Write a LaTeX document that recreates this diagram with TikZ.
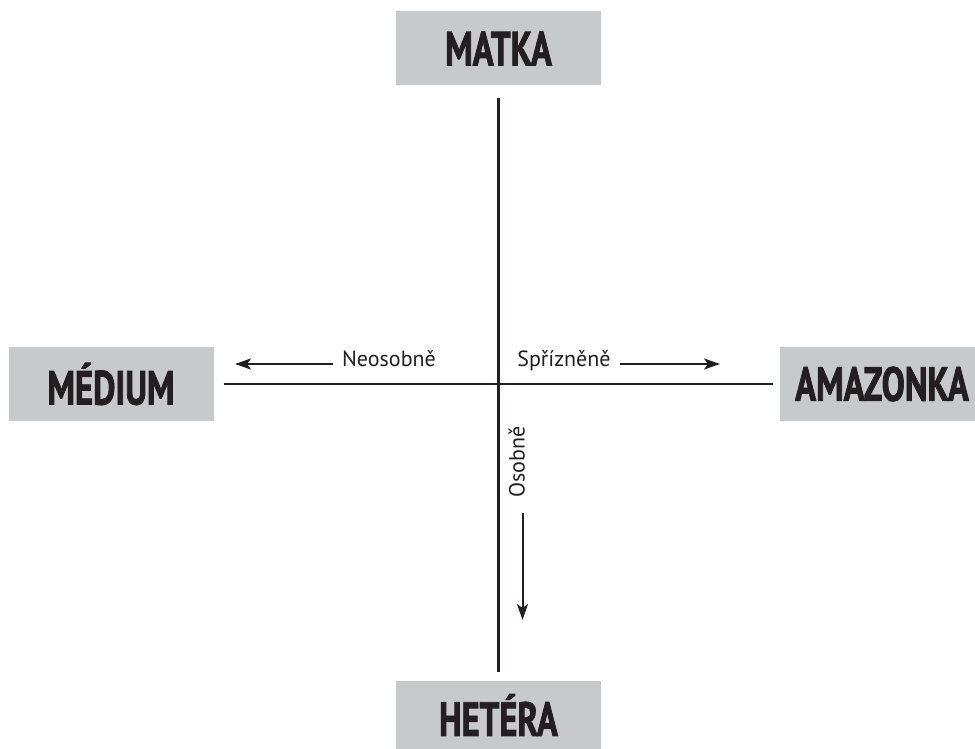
\documentclass[tikz,border=0pt]{standalone}
\usepackage{fontspec}
\setmainfont{PT Sans}
\newfontfamily\condfont[FakeStretch=0.72, BoldFeatures={FakeBold=1.6}]{PT Sans}
\usetikzlibrary{arrows.meta}
\definecolor{boxgray}{RGB}{200,201,203}
\definecolor{ink}{RGB}{35,31,32}
\tikzset{
  catbox/.style={fill=boxgray, draw=none, minimum width=205pt, minimum height=74pt,
    inner sep=0pt, text=ink, font=\condfont\bfseries\fontsize{48}{48}\selectfont},
  axis/.style={draw=ink, line width=2.4pt},
  dirarrow/.style={draw=ink, line width=2pt, -{Stealth[length=16pt,width=11pt,inset=4pt]}},
  dirlabel/.style={text=ink, inner sep=0pt, font=\fontsize{22}{22}\selectfont}
}
\begin{document}
\begin{tikzpicture}[x=1pt,y=-1pt]
\useasboundingbox (0,0) rectangle (975,749);
\fill[white] (0,0) rectangle (975,749);
% boxes
\node[catbox] (matka) at (498.5,48.5) {MATKA};
\node[catbox] (medium) at (111,384) {MÉDIUM};
\node[catbox, minimum width=195pt] (amazonka) at (877.5,384) {\hspace*{9pt}AMAZONKA};
\node[catbox, minimum height=68pt] (hetera) at (498.5,715) {\raisebox{-6pt}{HETÉRA}};
% axes
\draw[axis, shorten <=12pt, shorten >=9pt] (matka.south) -- (hetera.north);
\draw[axis, shorten <=10pt, shorten >=7pt] (medium.east) -- (amazonka.west);
% labels
\node[dirlabel, anchor=mid] (neo) at (389,364) {Neosobně};
\node[dirlabel, anchor=mid] (spr) at (564,364) {Spřízněně};
\node[dirlabel, anchor=mid, rotate=90] (oso) at (522,462) {Osobně};
% arrow ends
\coordinate (neoS) at (333,364);
\coordinate (neoE) at (235,364);
\coordinate (sprS) at (620,364);
\coordinate (sprE) at (720,364);
\coordinate (osoS) at (522.5,513);
\coordinate (osoE) at (522.5,620);
\draw[dirarrow] (neoS) -- (neoE);
\draw[dirarrow] (sprS) -- (sprE);
\draw[dirarrow] (osoS) -- (osoE);
\end{tikzpicture}
\end{document}
